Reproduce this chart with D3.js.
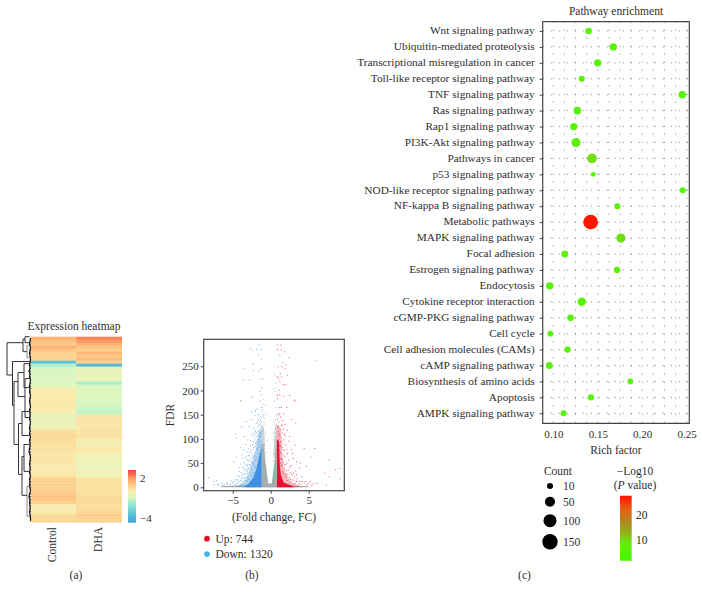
<!DOCTYPE html>
<html><head><meta charset="utf-8">
<script src="https://cdn.jsdelivr.net/npm/d3@7/dist/d3.min.js"></script>
<style>
html,body{margin:0;padding:0;background:#fff}
svg{display:block}
text{font-family:"Liberation Serif",serif;fill:#2e2e2e}
</style></head><body><svg id="c" width="702" height="597"></svg>
<script>
// ---------- (a) heatmap ----------
const heatControl=[1.4,1.2,1.0,1.5,1.1,.75,.75,.75,-3.4,-1.5,-1.1,-1,-1,-.9,-.9,-.8,-.7,.05,.1,.1,.15,.15,.2,.15,.1,-.1,-.6,-.5,-.5,-.3,-.3,.5,.55,.6,.55,.4,.4,.4,.3,.3,.3,.25,.2,.1,.15,.2,.3,.8,.85,.8,.85,.9,1.05,1.15,1.05,.9,.1,.05,.1,.5,.55,.6];
const heatDHA=[2.3,2,1.5,1.1,.85,1.4,1,1.3,.7,-3.8,-.6,-.5,-.4,-.4,-.4,-1.7,-.9,-.8,-.8,-.8,-.9,-1,-1,-1.1,-1.3,-1.4,.3,.3,.25,.2,.25,.35,.35,.4,.1,-.35,.1,.2,.15,-.2,-.3,-.35,-.5,-.45,-.25,-.2,-.2,.35,.4,.4,.45,.4,.45,.55,.55,.55,.5,.55,.6,.85,.8,.75];
const heatLabels=["Control","DHA"];
const heatStops=[-4.75,-3.5,-2,-1,0,1,2,3.2];
const heatColors=["#3fa0d8","#5cc0d8","#8fe8cf","#d8f7c2","#f8efb0","#fdc985","#fb9a62","#f63c3c"];
// dendrogram: [height, row, children...]; a child that is a number is a leaf row
const tree=[24,7.5,
 [8,2,[6,.8,0,2],[4,5,3,7]],
 [18.5,12.8,8.3,
  [17,23,
   [13,15,[7,12,9,17],[6,20,14,27]],
   [12.5,36,[9,29,25,33],[9,46,[7,40,36,45],[4,53,50,60]]]]]];
const combDepth=[.5,1,1.5,.5,1,1.5,1,.5,1,1.5,1,2,1,1.5,.5,1,1.5,1,1.5,.5,1,1.5,1,.5,1.5,1,1,1.5,.5,1,1.5,1,1.5,.5,1.5,1,1,1.5,2,1,.5,1,1.5,1,1,1.5,.5,1.5,1,1.5,1,.5,1.5,2,1,1.5,1,1,1.5,1,.5,.5];
// ---------- (b) volcano ----------
const greyBand=[[-6.5,0],[-6.5,2],[-5,3],[-3.5,4],[-1.2,8],[.8,8],[3,3],[5,2],[5,0]];
const greyMass=[[-1.18,0],[-1.18,90],[-1,92],[-.75,60],[-.31,6],[.13,6],[.55,60],[.72,92],[.8,90],[.8,0]];
const greyHaze=[[-1.18,60],[-1.18,135],[-.85,120],[-.7,60],[.35,60],[.5,120],[.8,135],[.8,60]];
const blueMass=[[-1.18,0],[-1.18,85],[-1.5,65],[-1.9,38],[-2.3,20],[-2.9,8],[-3.4,2],[-3.4,0]];
const blueHaze=[[-1.18,0],[-1.18,125],[-1.6,110],[-2,75],[-2.5,50],[-3,25],[-3.6,10],[-4.3,3],[-4.3,0]];
const redMass=[[.8,0],[.8,100],[1.1,95],[1.2,45],[1.35,25],[1.7,10],[2.5,5],[3.2,0]];
const redHaze=[[.8,0],[.8,130],[1.3,120],[1.5,70],[1.7,40],[2.2,20],[3,8],[4,2],[4,0]];
const greyPts=[[-1.1,160],[-1,145],[-.9,135],[.7,150],[.6,140],[.75,130],[-1.1,125],[-.95,118],[-1.05,110],[.65,120],[.7,112],[.55,105],[-.85,104],[-1,100],[-.9,92],[.5,92],[.7,96],[.6,85],[-1,86],[-.85,80],[.45,78],[.7,76],[.6,232],[.55,205],[.75,190],[-.7,170],[.7,165],[-.6,150],[5.9,262],[5.3,63],[6.2,8],[-1.1,155],[.4,70],[-.6,72],[-.5,58],[.35,55],[-1.05,172],[-.9,182],[.5,178],[.65,198],[.72,215],[-.8,142],[.45,135],[.58,128],[-.7,128],[-.65,112],[.3,112],[.38,98],[-.55,96],[-.75,88],[-5.6,3],[-4.4,4],[3.6,3],[4.6,3]];
const bluePts=[[-1.5,294],[-2.7,287],[-2.4,283],[-1.27,284],[-1.85,285],[-1.6,274],[-1.2,265],[-2.3,255],[-3.5,245],[-1.2,245],[-1.5,241],[-2.3,241],[-2.8,221],[-3.6,222],[-1.4,224],[-1,224],[-1.2,205],[-1.4,198],[-1.2,191],[-2.3,187],[-2.5,185],[-4,178],[-1.4,178],[-1.2,165],[-2,158],[-1.8,162],[-2.5,156],[-1,150],[-1.6,150],[-8.2,20],[-7.5,12],[-7.1,14],[-6.4,8],[-5.8,7],[-7.5,5],[-4.5,101],[-4.6,110],[-3.8,67],[-3.6,77],[-4.8,53],[-3.9,180],[-3.8,125],
[-1.3,145],[-1.6,140],[-1.2,135],[-1.9,132],[-1.4,128],[-1.7,125],[-2.2,122],[-1.25,122],[-1.5,118],[-2,116],[-1.8,113],[-1.3,112],[-1.6,108],[-2.3,106],[-1.9,104],[-1.4,102],[-2.1,100],[-1.7,98],[-2.6,96],[-1.3,95],[-1.5,92],[-2,90],[-2.4,88],[-1.8,87],[-1.25,85],[-1.6,83],[-2.2,82],[-2.9,80],[-1.9,78],[-1.4,76],[-2.6,75],[-3.1,73],[-2.1,72],[-1.7,70],[-2.4,68],[-1.5,68],[-2.8,65],[-1.9,64],[-3.3,63],[-2.2,62],[-2.6,58],[-3,56],[-2,55],[-3.5,52],[-2.4,50],[-2.8,47],[-3.2,45],[-2.1,44],[-3.7,42],[-2.6,40],[-3,38],[-2.4,36],[-3.4,34],[-4.1,33],[-2.8,31],[-3.1,28],[-3.6,26],[-2.6,26],[-4.4,24],[-3,22],[-3.4,20],[-3.9,18],[-2.9,17],[-4.6,16],[-3.3,14],[-3.7,12],[-4.2,11],[-5,10],[-5.3,6],[-4.7,5],[-6.8,4],[-6.1,5],[-3.9,7],[-2.3,30],[-2.5,22],[-2,40],[-2.2,48],[-1.9,58],[-1.6,62],[-1.4,88],[-1.8,95],[-2.5,110],[-3,98],[-3.3,88],[-1.5,105],[-1.2,115],
[-1.35,138],[-1.55,130],[-1.75,135],[-1.45,112],[-1.65,116],[-1.95,110],[-2.15,112],[-1.35,106],[-1.55,98],[-2.25,94],[-1.85,92],[-1.45,82],[-2.05,84],[-2.35,78],[-1.75,80],[-2.65,86],[-2.75,72],[-2.95,66],[-2.45,62],[-2.15,66],[-3.2,58],[-2.85,54],[-2.55,52],[-3.4,48],[-3.05,46],[-2.65,46],[-3.55,38],[-3.25,36],[-2.9,38],[-3.85,30],[-3.35,28],[-3.05,32],[-3.75,22],[-3.55,18],[-4.1,22],[-4.35,15],[-4,14],[-4.8,12],[-4.45,8],[-3.1,12],[-5.2,13],[-5.7,9],[-6.3,4],[-7,6],[-3.7,60],[-3.95,48],[-4.2,40],[-4.5,62],[-4,82],[-3.5,105],[-2.8,125],[-2.5,140],[-2.1,148],[-3.2,135]];
const redPts=[[.87,294],[1.35,294],[.87,284],[1.4,284],[1.8,280],[1.2,273],[2.4,268],[2,253],[1.5,249],[1,249],[1.9,245],[1.25,235],[.87,228],[1.4,228],[1,224],[1.2,218],[2,212],[1.7,212],[1.1,200],[.9,191],[1.2,191],[1.7,188],[2.5,190],[3.1,178],[.9,183],[1.2,165],[1.4,165],[1,152],[1.7,152],[9.1,39],[8.5,36],[7.7,56],[9.1,17],[7.7,22],[7.1,29],[5.8,80],[4.4,80],[4.7,43],[3.4,53],[3.2,87],[3.3,133],[3.2,180],[3.9,50],[3,29],[2.1,22],[4.1,22],[5.2,12],[6,8],[7.3,5],
[1,148],[1.3,145],[.9,140],[1.6,138],[1.1,135],[1.9,130],[1.4,128],[.9,125],[1.2,122],[1.7,120],[2.2,118],[1,115],[1.5,112],[1.2,108],[1.9,107],[.9,105],[1.4,103],[1.1,100],[1.7,98],[2.4,95],[1.3,94],[1,92],[1.6,90],[2,88],[1.2,85],[.9,84],[1.5,82],[2.7,78],[1.1,78],[1.8,75],[1.3,72],[2.2,70],[1.5,68],[1.1,66],[1.9,62],[3,60],[1.4,58],[2.4,56],[1.7,52],[1.3,50],[2,47],[2.7,45],[1.5,42],[1.8,38],[2.3,36],[3.3,34],[1.6,32],[2.1,28],[2.8,26],[1.9,24],[2.4,20],[3.5,18],[2.9,15],[3.8,12],[4.4,9],[3.2,8],[4.8,6],[5.6,7],[4,6],[1.25,60],[1.15,55],[1.35,45],[1.2,88],[1.05,110],
[1.2,152],[1.5,128],[1.05,126],[1.35,118],[1.8,110],[1.45,95],[1.6,78],[1.35,85],[2.1,78],[1.75,65],[1.55,58],[2.15,50],[1.85,46],[1.55,48],[2.5,42],[2.05,34],[1.75,28],[2.55,30],[2.25,26],[2.6,16],[3.1,22],[3.4,12],[2.2,14],[4.1,12],[4.6,12],[5,8],[5.4,4],[3.7,7],[3.4,26],[3.8,40],[2.9,70],[2.5,105],[2.7,140],[2.1,165],[2.2,232],[1.6,258]];
const volcanoLegend=[["Up: 744","#e8112d"],["Down: 1320","#45b4ea"]];
// ---------- (c) pathway enrichment ----------
const pathways=["Wnt signaling pathway","Ubiquitin-mediated proteolysis","Transcriptional misregulation in cancer","Toll-like receptor signaling pathway","TNF signaling pathway","Ras signaling pathway","Rap1 signaling pathway","PI3K-Akt signaling pathway","Pathways in cancer","p53 signaling pathway","NOD-like receptor signaling pathway","NF-kappa B signaling pathway","Metabolic pathways","MAPK signaling pathway","Focal adhesion","Estrogen signaling pathway","Endocytosis","Cytokine receptor interaction","cGMP-PKG signaling pathway","Cell cycle ","Cell adhesion molecules (CAMs)","cAMP signaling pathway","Biosynthesis of amino acids","Apoptosis","AMPK signaling pathway"];
const richFactor=[.1397,.1675,.15,.132,.245,.127,.123,.1255,.1435,.145,.2455,.172,.142,.176,.113,.1716,.096,.132,.1195,.0966,.116,.0955,.1866,.1424,.1116];
const counts=[14,20,20,10,20,22,20,38,45,4,10,10,135,38,17,12,20,30,14,8,12,17,8,13,10];
const logP=[6,6,6,6,6,6,6,7,10,5,5,6,27.5,10,6,6,6,6,6,5,6,6,6,6,6];
const countLegend=[10,50,100,150];
const pStops=[1.8,9,12,17,22,27.5];
const pColors=["#44f800","#66ee0c","#8abc14","#b08a20","#e86010","#ff1500"];
const richTicks=[.10,.15,.20,.25];
const gridRich=[.1,.1125,.125,.1375,.15,.1625,.175,.1875,.2,.2125,.225,.2375,.25];

const svg=d3.select("#c"),ink="#2e2e2e",frame="#444";
function label(x,y,s,size,anchor){return svg.append("text").attr("x",x).attr("y",y).attr("font-size",size).attr("text-anchor",anchor||"middle").attr("dominant-baseline","central").text(s);}

// ===== panel a =====
const hx=d3.scaleBand().domain(heatLabels).range([30.7,121.7]);
const hy=d3.scaleBand().domain(d3.range(heatControl.length)).range([336.7,522.3]);
const hc=d3.scaleLinear().domain(heatStops).range(heatColors).clamp(true);
[heatControl,heatDHA].forEach((vals,k)=>{
 svg.append("g").selectAll("rect").data(vals).join("rect")
  .attr("x",hx(heatLabels[k])).attr("width",hx.bandwidth()+.3)
  .attr("y",(d,i)=>hy(i)).attr("height",hy.bandwidth()+.3).attr("fill",d=>hc(d));
});
const th=d3.scaleLinear().domain([0,24]).range([31,7]);
const tr=d3.scaleLinear().domain([0,heatControl.length]).range([336.7,522.3]);
const dg=svg.append("g").attr("fill","none");
function seg(x1,y1,x2,y2,c){dg.append("line").attr("x1",x1).attr("y1",y1).attr("x2",x2).attr("y2",y2).attr("stroke",c).attr("stroke-width",1);}
function walk(n){
 if(typeof n==="number")return {x:th(1.5),y:tr(n)};
 const [h,r,...kids]=n,x=th(h),y=tr(r),c=h<5?"#888":"#333";
 const ps=kids.map(walk);
 seg(x,d3.min(ps,p=>p.y),x,d3.max(ps,p=>p.y),c);
 ps.forEach(p=>seg(x,p.y,p.x,p.y,c));
 return {x,y};
}
walk(tree);
const comb=d3.line().x(d=>th(d[1])).y(d=>tr(d[0]+.5));
dg.append("path").attr("d",comb(combDepth.map((d,i)=>[i,d]))).attr("stroke","#111").attr("stroke-width",1.2);
combDepth.forEach((d,i)=>seg(th(d),tr(i+.5),th(0),tr(i+.5),"#111"));
label(74,326,"Expression heatmap",11.5);
heatLabels.forEach(s=>{
 const cx=hx(s)+hx.bandwidth()/2;
 svg.append("text").attr("transform",`translate(${cx-1},527) rotate(-90)`).attr("font-size",11.5).attr("text-anchor","end").attr("dominant-baseline","central").text(s);
});
label(76,575,"(a)",11.5);
const defs=svg.append("defs");
const g1=defs.append("linearGradient").attr("id","g1").attr("x1",0).attr("x2",0).attr("y1",1).attr("y2",0);
heatStops.forEach((s,i)=>g1.append("stop").attr("offset",(s-heatStops[0])/(heatStops[7]-heatStops[0])).attr("stop-color",heatColors[i]));
const hl=d3.scaleLinear().domain([-4,2]).range([517.7,478]);
svg.append("rect").attr("x",128).attr("width",8).attr("y",hl(3.2)).attr("height",hl(-4.75)-hl(3.2)).attr("fill","url(#g1)");
[[2,"2"],[-4,"\u22124"]].forEach(d=>label(140,hl(d[0]),d[1],11,"start"));

// ===== panel b =====
const vx=d3.scaleLinear().domain([-5,5]).range([232.7,308.7]);
const vy=d3.scaleLinear().domain([0,250]).range([487.3,366.3]);
const poly=d3.line().x(d=>vx(d[0])).y(d=>vy(d[1])).curve(d3.curveLinearClosed);
const pg=svg.append("g");
const GREY="#a3adad";
pg.append("path").attr("d",poly(greyBand)).attr("fill",GREY);
pg.append("path").attr("d",poly(blueHaze)).attr("fill","#4a95dc").attr("opacity",.4);
pg.append("path").attr("d",poly(redHaze)).attr("fill","#e8102c").attr("opacity",.3);
pg.append("path").attr("d",poly(greyHaze)).attr("fill",GREY).attr("opacity",.5);
pg.append("path").attr("d",poly(blueMass)).attr("fill","#3d8fe0");
pg.append("path").attr("d",poly(redMass)).attr("fill","#e8102c");
pg.append("path").attr("d",poly(greyMass)).attr("fill",GREY);
[[greyPts,GREY],[bluePts,"#4a95dc"],[redPts,"#e82845"]].forEach(([a,c])=>{
 pg.append("g").selectAll("rect").data(a).join("rect")
  .attr("x",d=>vx(d[0])-.5).attr("y",d=>vy(d[1])-.5).attr("width",1).attr("height",1).attr("fill",c).attr("opacity",.8);
});
const vb=svg.append("g");
function axisStyle(g){g.selectAll(".domain").remove();g.selectAll("line").attr("stroke",frame);g.selectAll("text").attr("font-size",11).attr("fill",ink).style("font-family",'"Liberation Serif",serif');}
vb.append("g").attr("transform","translate(0,490.7)").call(d3.axisBottom(vx).tickValues([-5,0,5]).tickSize(3).tickPadding(3).tickFormat(d=>d<0?"\u2212"+(-d):d)).call(axisStyle);
vb.append("g").attr("transform","translate(203.7,0)").call(d3.axisLeft(vy).tickValues([0,50,100,150,200,250]).tickSize(3).tickPadding(2)).call(axisStyle);
svg.append("rect").attr("x",203.7).attr("y",339.3).attr("width",140.6).attr("height",151.4).attr("fill","none").attr("stroke",frame).attr("stroke-width",1.2);
svg.append("text").attr("transform","translate(170,415) rotate(-90)").attr("font-size",11.5).attr("text-anchor","middle").attr("dominant-baseline","central").text("FDR");
label(274,517,"(Fold change, FC)",11.5);
volcanoLegend.forEach((d,i)=>{
 svg.append("circle").attr("cx",207).attr("cy",538.7+i*15.4).attr("r",2.9).attr("fill",d[1]);
 label(215.5,538.7+i*15.4,d[0],11.5,"start");
});
label(252,575,"(b)",11.5);

// ===== panel c =====
const cx=d3.scaleLinear().domain([.1,.25]).range([553.3,686.7]);
const cy=d3.scalePoint().domain(pathways).range([31,413.3]);
const cr=d3.scaleSqrt().domain([10,150]).range([3,7.7]);
const cc=d3.scaleLinear().domain(pStops).range(pColors);
const gg=svg.append("g").attr("stroke","#808080").attr("stroke-width",1).attr("stroke-dasharray","1 7");
gg.selectAll(".v").data(gridRich).join("line").attr("x1",d=>cx(d)).attr("x2",d=>cx(d)).attr("y1",21.7).attr("y2",423.3);
gg.selectAll(".h").data(pathways).join("line").attr("x1",542.7).attr("x2",689.3).attr("y1",d=>cy(d)).attr("y2",d=>cy(d));
svg.append("g").selectAll("circle").data(pathways).join("circle")
 .attr("cx",(d,i)=>cx(richFactor[i])).attr("cy",d=>cy(d)).attr("r",(d,i)=>cr(counts[i])).attr("fill",(d,i)=>cc(logP[i]));
svg.append("g").attr("transform","translate(542.7,0)").call(d3.axisLeft(cy).tickSize(3).tickPadding(5)).call(axisStyle).selectAll("text").attr("font-size",11.3).attr("dy",".24em");
svg.append("g").attr("transform","translate(0,423.3)").call(d3.axisBottom(cx).tickValues(richTicks).tickSize(0).tickPadding(7).tickFormat(d3.format(".2f"))).call(axisStyle);
svg.append("path").attr("d","M542.7,21.7H689.3V423.3H542.7Z").attr("fill","none").attr("stroke",frame).attr("stroke-width",1.2);
label(616,11,"Pathway enrichment",11.5);
label(616,450,"Rich factor",11.5);
label(558,471,"Count",11.5);
const ly=[486,501.7,520.7,541.7];
countLegend.forEach((c,i)=>{
 svg.append("circle").attr("cx",550).attr("cy",ly[i]).attr("r",cr(c)).attr("fill","#000");
 label(563,ly[i],c,11.5,"start");
});
label(635,471,"\u2212Log10",11.5);
const pv=label(635,485,"(",11.5);
pv.append("tspan").attr("font-style","italic").text("P");
pv.append("tspan").text(" value)");
const g2=defs.append("linearGradient").attr("id","g2").attr("x1",0).attr("x2",0).attr("y1",1).attr("y2",0);
pStops.forEach((s,i)=>g2.append("stop").attr("offset",(s-pStops[0])/(pStops[5]-pStops[0])).attr("stop-color",pColors[i]));
const pl=d3.scaleLinear().domain([10,20]).range([540,514.7]);
svg.append("rect").attr("x",620).attr("width",11.7).attr("y",pl(27.5)).attr("height",pl(1.8)-pl(27.5)).attr("fill","url(#g2)");
[20,10].forEach(t=>label(636,pl(t),t,11.5,"start"));
label(524.5,575,"(c)",11.5);
</script></body></html>
